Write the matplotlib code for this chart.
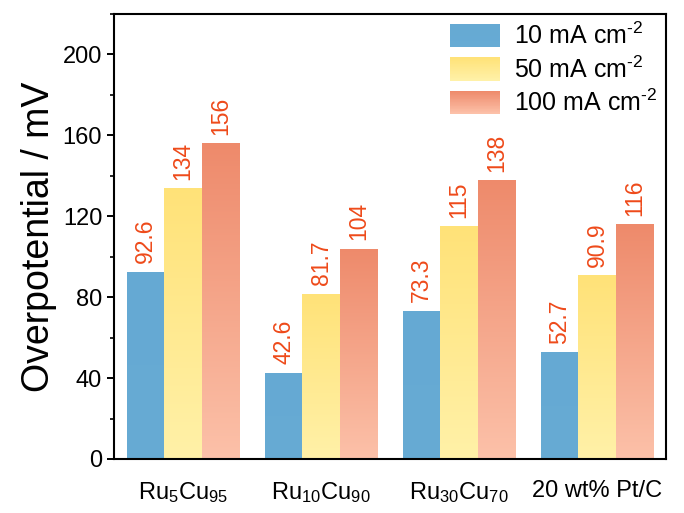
import numpy as np
import matplotlib
matplotlib.use("Agg")
import matplotlib.pyplot as plt
from matplotlib.colors import LinearSegmentedColormap
from matplotlib.legend_handler import HandlerBase
from matplotlib.patches import Rectangle
from matplotlib.ticker import MultipleLocator

plt.rcParams['font.family'] = ['Liberation Sans', 'DejaVu Sans']
plt.rcParams['mathtext.fontset'] = 'custom'
plt.rcParams['mathtext.rm'] = 'Liberation Sans'
plt.rcParams['mathtext.it'] = 'Liberation Sans:italic'
plt.rcParams['mathtext.bf'] = 'Liberation Sans:bold'

# Catalysts and overpotentials (mV) at each current density
catalysts = ['Ru$_5$Cu$_{95}$', 'Ru$_{10}$Cu$_{90}$', 'Ru$_{30}$Cu$_{70}$', '20 wt% Pt/C']
series_names = ['10 mA cm$^{\\text{-}2}$', '50 mA cm$^{\\text{-}2}$', '100 mA cm$^{\\text{-}2}$']
eta_10 = [92.6, 42.6, 73.3, 52.7]
eta_50 = [134, 81.7, 115, 90.9]
eta_100 = [156, 104, 138, 116]
value_labels = [['92.6', '42.6', '73.3', '52.7'],
                ['134', '81.7', '115', '90.9'],
                ['156', '104', '138', '116']]

# (top colour, bottom colour) for each series
grad_colors = [('#65A9D3', '#67ABD4'),
               ('#FFE278', '#FFF1A8'),
               ('#EE8A6B', '#FCC1A9')]
label_color = '#EE4A1A'

fig = plt.figure(figsize=(6.84, 5.13), dpi=100)
ax = fig.add_axes([0.1667, 0.1053, 0.807, 0.8674])

x = np.arange(len(catalysts))
width = 0.27
offsets = [-width, 0, width]
grad = np.linspace(0, 1, 256).reshape(-1, 1)

for i, vals in enumerate([eta_10, eta_50, eta_100]):
    cmap = LinearSegmentedColormap.from_list('g%d' % i, [grad_colors[i][1], grad_colors[i][0]])
    bars = ax.bar(x + offsets[i], vals, width, color='none', edgecolor='none', zorder=2)
    for b, txt in zip(bars, value_labels[i]):
        x0, y0 = b.get_x(), b.get_y()
        im = ax.imshow(grad, extent=[x0, x0 + b.get_width(), y0, y0 + b.get_height()],
                       origin='lower', cmap=cmap, aspect='auto', zorder=2)
        im.set_clip_path(b)
        ax.annotate(txt, (x0 + b.get_width() / 2, b.get_height()), xytext=(0, 6),
                    textcoords='offset points', rotation=90, ha='center', va='bottom',
                    fontsize=16.5, color=label_color)


class GradientHandler(HandlerBase):
    def __init__(self, top, bottom, n=30):
        super().__init__()
        self.top, self.bottom, self.n = top, bottom, n

    def create_artists(self, legend, orig_handle, xdescent, ydescent, width, height,
                       fontsize, trans):
        cmap = LinearSegmentedColormap.from_list('lg', [self.bottom, self.top])
        h = height / self.n
        arts = []
        for k in range(self.n):
            r = Rectangle((-xdescent, -ydescent + k * h), width, h * 1.05,
                          facecolor=cmap(k / (self.n - 1)), edgecolor='none', transform=trans)
            arts.append(r)
        return arts


handles = [Rectangle((0, 0), 1, 1) for _ in series_names]
handler_map = {h: GradientHandler(*c) for h, c in zip(handles, grad_colors)}
ax.legend(handles, series_names, handler_map=handler_map, loc='upper right',
          frameon=False, fontsize=18, handlelength=2.0, handleheight=1.05,
          handletextpad=0.55, labelspacing=0.28, borderaxespad=0.0,
          borderpad=0.35, bbox_to_anchor=(1.0, 1.0))

ax.set_xlim(-0.5, 3.5)
ax.set_ylim(0, 220)
ax.set_xticks(x)
ax.set_xticklabels(catalysts, fontsize=17)
ax.set_ylabel('Overpotential / mV', fontsize=27, labelpad=4)
ax.yaxis.set_major_locator(MultipleLocator(40))
ax.yaxis.set_minor_locator(MultipleLocator(20))
ax.tick_params(axis='y', which='major', direction='out', length=5, width=1.4, labelsize=17)
ax.tick_params(axis='y', which='minor', direction='out', length=3, width=1.2)
ax.tick_params(axis='x', length=0, pad=15)
for s in ax.spines.values():
    s.set_linewidth(1.5)

plt.savefig('out.png', dpi=100)
